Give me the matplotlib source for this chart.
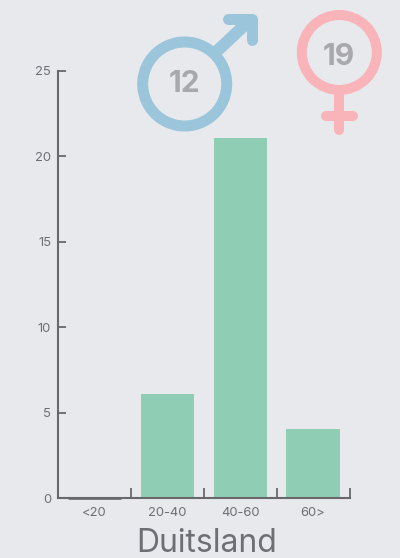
import matplotlib
matplotlib.use("Agg")
import matplotlib.pyplot as plt
from matplotlib.patches import Circle
from matplotlib.transforms import ScaledTranslation

categories = ["<20", "20-40", "40-60", "60>"]
values = [0, 6, 21, 4]
y_ticks = [0, 5, 10, 15, 20, 25]
title = "Duitsland"
male_count = "12"
female_count = "19"

BG = "#E8E9ED"
BAR = "#8FCDB4"
AXIS = "#67676C"
TEXT = "#6E6E74"
BLUE = "#9AC5DB"
PINK = "#F8B4B8"
NUM = "#A9A9AD"
W, H = 400, 558

plt.rcParams["font.family"] = ["Inter", "DejaVu Sans"]
fig = plt.figure(figsize=(W / 100, H / 100), dpi=100, facecolor=BG)

L, R, T, B = 58, 349.5, 71, 498.3
ax = fig.add_axes([L / W, 1 - B / H, (R - L) / W, (B - T) / H], facecolor=BG)
xs = list(range(len(categories)))
bars = ax.bar(xs, values, width=0.73, color=BAR, linewidth=0, zorder=2)
ax.plot([-0.365, 0.365], [0, 0], color=AXIS, lw=1.9, solid_capstyle="butt", clip_on=False, zorder=4)
ax.set_xlim(-0.5, len(categories) - 0.5)
ax.set_ylim(0, 25)
# the reference's bars sit a little above the zero line
lift = ScaledTranslation(0, 1.3 / 100, fig.dpi_scale_trans)
for bar in bars:
    bar.set_transform(ax.transData + lift)
ax.set_yticks(y_ticks)
ax.set_xticks(xs)
ax.set_xticklabels(categories)
for s in ("top", "right"):
    ax.spines[s].set_visible(False)
for s in ("left", "bottom"):
    ax.spines[s].set_color(AXIS)
    ax.spines[s].set_linewidth(1.5)
    ax.spines[s].set_zorder(3)
ax.tick_params(axis="y", direction="in", length=5.5, width=1.3, color=AXIS,
               labelcolor=TEXT, labelsize=9.4, pad=5)
ax.tick_params(axis="x", length=0, labelcolor=TEXT, labelsize=9.4, pad=6)
# separators between the age bands
for b in [i + 0.5 for i in xs]:
    ax.plot([b, b], [0, 0.58], color=AXIS, lw=1.3, solid_capstyle="butt", clip_on=False, zorder=3)
ax.plot([-0.5, -0.5], [0, 0.58], color=AXIS, lw=1.3, clip_on=False, zorder=3)

# decorative layer in pixel coordinates
ov = fig.add_axes([0, 0, 1, 1], facecolor="none")
ov.set_xlim(0, W)
ov.set_ylim(H, 0)
ov.axis("off")
px = 0.72

ov.add_patch(Circle((184.7, 84), 42, fill=False, ec=BLUE, lw=11 * px))
ov.plot([216, 249], [52, 21], color=BLUE, lw=12 * px, solid_capstyle="butt")
ov.plot([228, 251.5, 251.5], [19, 19, 40], color=BLUE, lw=11 * px,
        solid_capstyle="round", solid_joinstyle="round")
ov.text(184.5, 84.5, male_count, color=NUM, fontsize=21.5, fontweight="bold", ha="center", va="center")

ov.add_patch(Circle((339.3, 52.5), 37.5, fill=False, ec=PINK, lw=10 * px))
ov.plot([339.3, 339.3], [93, 130], color=PINK, lw=10 * px, solid_capstyle="round")
ov.plot([326, 353], [116, 116], color=PINK, lw=10 * px, solid_capstyle="round")
ov.text(338.5, 57, female_count, color=NUM, fontsize=21.5, fontweight="bold", ha="center", va="center")

ov.text(207, 544, title, color=TEXT, fontsize=23, ha="center", va="center")

fig.savefig("out.png", dpi=100, facecolor=BG)
